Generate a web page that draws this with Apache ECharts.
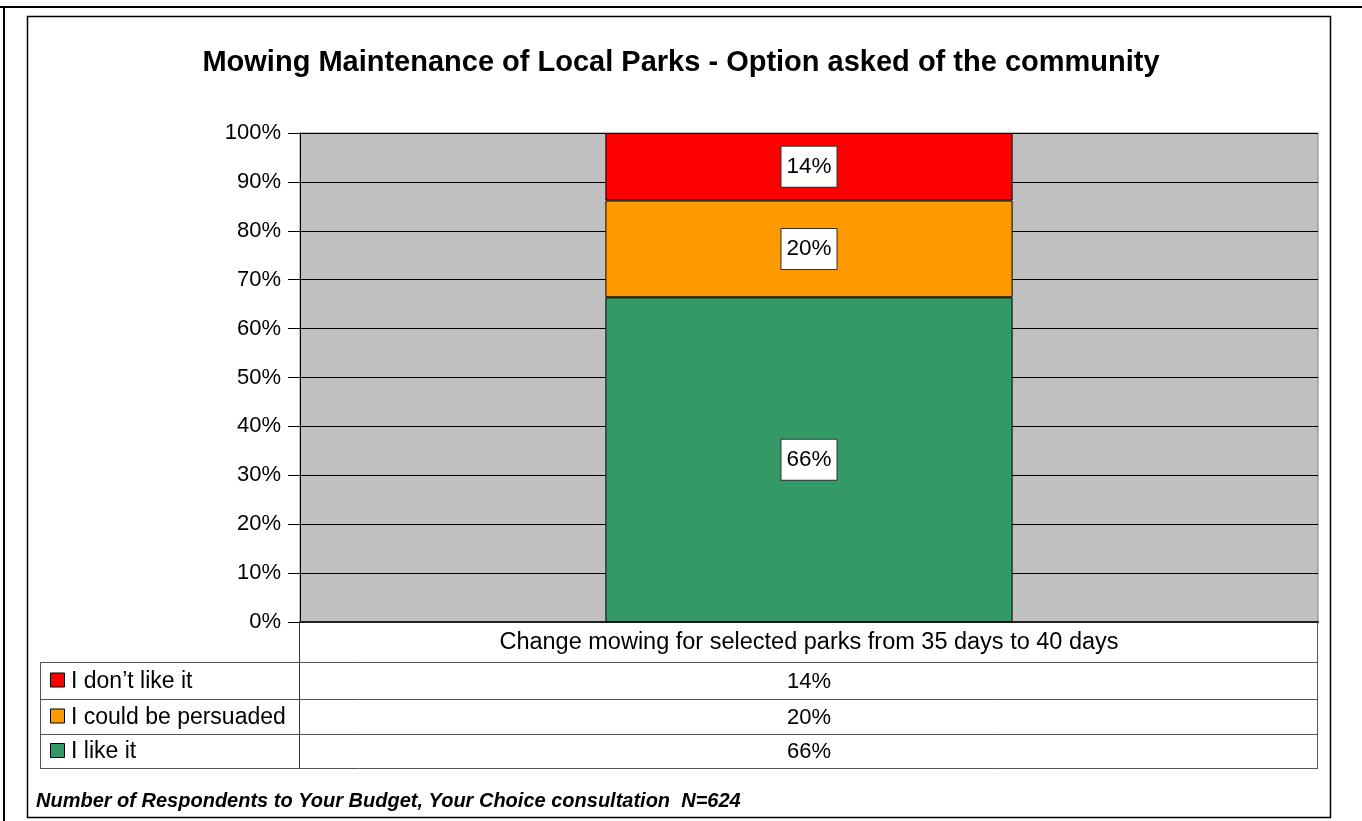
<!DOCTYPE html>
<html><head><meta charset="utf-8">
<script src="https://cdn.jsdelivr.net/npm/echarts@6/dist/echarts.min.js"></script>
<style>html,body{margin:0;padding:0;background:#fff}#c{width:1362px;height:821px}</style>
</head><body><div id="c"></div>
<script>
const titleText = 'Mowing Maintenance of Local Parks - Option asked of the community';
const categories = ['Change mowing for selected parks from 35 days to 40 days'];
const seriesNames = ['I like it', 'I could be persuaded', 'I don\u2019t like it'];
const likeIt = [66.4];
const persuaded = [19.8];
const dislike = [13.8];
const seriesColors = ['#339966', '#FF9900', '#FF0000'];
const yTicks = [0, 10, 20, 30, 40, 50, 60, 70, 80, 90, 100];
const footnote = 'Number of Respondents to Your Budget, Your Choice consultation  N=624';

const FONT = 'Liberation Sans, Arial, sans-serif';
const chart = echarts.init(document.getElementById('c'), null, {renderer: 'canvas'});
const seriesData = [likeIt, persuaded, dislike];

const gridL = 300, gridR = 1318, gridT = 133, gridB = 622;
const tblL = 40;
const rowY = [622, 662, 699, 734, 768];
const fmt = v => Math.round(v) + '%';

const series = seriesData.map((d, i) => ({
  name: seriesNames[i], type: 'bar', stack: 'all', data: d,
  barCategoryGap: '60%',
  itemStyle: {color: seriesColors[i], borderColor: '#000', borderWidth: 1},
  label: {show: true, position: 'inside', formatter: p => fmt(p.value),
    color: '#000', fontFamily: FONT, fontSize: 22.5, backgroundColor: '#fff',
    borderColor: '#333', borderWidth: 1, padding: [9, 5, 8, 5]}
}));

const graphics = [];
graphics.push({type: 'line', shape: {x1: 0, y1: 7, x2: 1362, y2: 7}, style: {stroke: '#000', lineWidth: 2}, silent: true});
graphics.push({type: 'line', shape: {x1: 4, y1: 7, x2: 4, y2: 821}, style: {stroke: '#000', lineWidth: 2}, silent: true});
graphics.push({type: 'rect', shape: {x: 27.5, y: 16.5, width: 1303, height: 801}, style: {fill: 'none', stroke: '#000', lineWidth: 1.5}, silent: true});
for (let r = 1; r < rowY.length; r++) {
  graphics.push({type: 'line', shape: {x1: tblL, y1: rowY[r] + 0.5, x2: gridR, y2: rowY[r] + 0.5}, style: {stroke: '#555', lineWidth: 1}, silent: true});
}
graphics.push({type: 'line', shape: {x1: tblL + 0.5, y1: rowY[1], x2: tblL + 0.5, y2: rowY[4]}, style: {stroke: '#555', lineWidth: 1}, silent: true});
graphics.push({type: 'line', shape: {x1: gridR - 0.5, y1: rowY[0], x2: gridR - 0.5, y2: rowY[4]}, style: {stroke: '#555', lineWidth: 1}, silent: true});
graphics.push({type: 'line', shape: {x1: gridL - 0.5, y1: rowY[0], x2: gridL - 0.5, y2: rowY[4]}, style: {stroke: '#333', lineWidth: 1}, silent: true});
const order = [2, 1, 0];
order.forEach((si, r) => {
  const yc = (rowY[r + 1] + rowY[r + 2]) / 2;
  graphics.push({type: 'rect', shape: {x: 50.5, y: yc - 7.5, width: 14, height: 14}, style: {fill: seriesColors[si], stroke: '#000', lineWidth: 1}, silent: true});
  graphics.push({type: 'text', x: 71, y: yc + 1, style: {text: seriesNames[si], fill: '#000', font: '23px ' + FONT, textVerticalAlign: 'middle', textAlign: 'left'}, silent: true});
  graphics.push({type: 'text', x: (gridL + gridR) / 2, y: yc + 1, style: {text: fmt(seriesData[si][0]), fill: '#000', font: '22px ' + FONT, textVerticalAlign: 'middle', textAlign: 'center'}, silent: true});
});
graphics.push({type: 'text', x: 36, y: 801, style: {text: footnote, fill: '#000', font: 'italic bold 20px ' + FONT, textVerticalAlign: 'middle', textAlign: 'left'}, silent: true});

chart.setOption({
  animation: false,
  backgroundColor: '#fff',
  title: {text: titleText, left: 'center', top: 43, textStyle: {fontFamily: FONT, fontSize: 29, fontWeight: 'bold', color: '#000'}},
  grid: {left: gridL, right: 1362 - gridR, top: gridT, bottom: 821 - gridB, show: true, backgroundColor: '#C0C0C0', borderColor: '#808080', borderWidth: 1},
  xAxis: {type: 'category', data: categories,
    axisLine: {show: true, lineStyle: {color: '#222', width: 2}}, axisTick: {show: false},
    axisLabel: {color: '#000', fontFamily: FONT, fontSize: 23.5, margin: 9}},
  yAxis: {type: 'value', min: yTicks[0], max: yTicks[yTicks.length - 1], interval: 10,
    axisLine: {show: true, lineStyle: {color: '#000', width: 1}},
    axisTick: {show: true, length: 12, lineStyle: {color: '#000'}},
    splitLine: {show: true, lineStyle: {color: '#000', width: 1}},
    axisLabel: {formatter: v => v + '%', color: '#000', fontFamily: FONT, fontSize: 22, margin: 19}},
  series: series,
  graphic: graphics
});
</script></body></html>
